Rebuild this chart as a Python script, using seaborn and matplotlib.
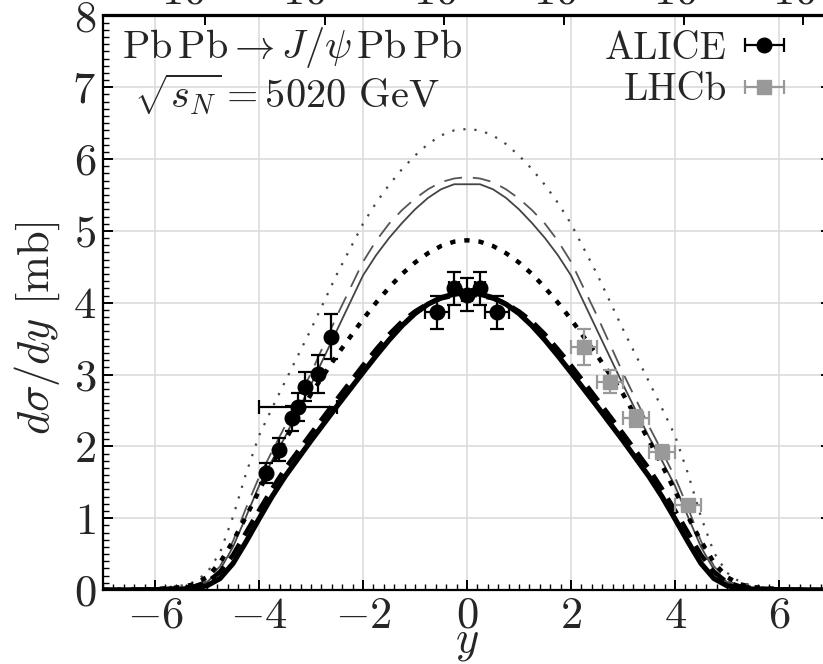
import numpy as np
import pandas as pd
import matplotlib
matplotlib.use("Agg")
import matplotlib.pyplot as plt
import seaborn as sns
from matplotlib.ticker import MultipleLocator, LogLocator, NullFormatter

# ---------------- data ----------------
rap = [-7, -6.5, -6, -5.5, -5.25, -5, -4.75, -4.5, -4.25, -4, -3.75, -3.5, -3, -2.5, -2, -1.75, -1.5, -1.25, -1,
       -0.75, -0.5, -0.25, 0,
       0.25, 0.5, 0.75, 1, 1.25, 1.5, 1.75, 2, 2.5, 3, 3.5, 3.75, 4, 4.25, 4.5, 4.75, 5, 5.25, 5.5, 6, 6.5, 7]

thick_solid = [0.0, 0.001, 0.004, 0.012, 0.025, 0.06, 0.16, 0.37, 0.67, 0.99, 1.30, 1.58, 2.08, 2.56, 3.03, 3.26,
               3.48, 3.68, 3.85, 3.98, 4.07, 4.12, 4.14,
               4.12, 4.07, 3.98, 3.85, 3.68, 3.48, 3.26, 3.03, 2.56, 2.08, 1.58, 1.30, 0.99, 0.67, 0.37, 0.16,
               0.06, 0.025, 0.012, 0.004, 0.001, 0.0]
thick_dashed = [0.001, 0.002, 0.008, 0.025, 0.05, 0.11, 0.25, 0.49, 0.80, 1.11, 1.41, 1.69, 2.18, 2.66, 3.13, 3.35,
                3.56, 3.74, 3.88, 3.99, 4.06, 4.10, 4.12,
                4.10, 4.06, 3.99, 3.88, 3.74, 3.56, 3.35, 3.13, 2.66, 2.18, 1.69, 1.41, 1.11, 0.80, 0.49, 0.25,
                0.11, 0.05, 0.025, 0.008, 0.002, 0.001]
thick_dotted = [0.001, 0.003, 0.012, 0.04, 0.08, 0.18, 0.38, 0.68, 1.02, 1.38, 1.74, 2.08, 2.73, 3.27, 3.77, 4.00,
                4.21, 4.40, 4.56, 4.69, 4.79, 4.85, 4.87,
                4.85, 4.79, 4.69, 4.56, 4.40, 4.21, 4.00, 3.77, 3.27, 2.73, 2.08, 1.74, 1.38, 1.02, 0.68, 0.38,
                0.18, 0.08, 0.04, 0.012, 0.003, 0.001]
thin_solid = [0.001, 0.002, 0.008, 0.025, 0.05, 0.11, 0.28, 0.60, 1.02, 1.45, 1.80, 2.13, 2.86, 3.62, 4.38, 4.66,
              4.90, 5.11, 5.30, 5.46, 5.58, 5.65, 5.65,
              5.65, 5.58, 5.46, 5.30, 5.11, 4.90, 4.66, 4.38, 3.62, 2.86, 2.13, 1.80, 1.45, 1.02, 0.60, 0.28,
              0.11, 0.05, 0.025, 0.008, 0.002, 0.001]
thin_dashed = [0.001, 0.003, 0.01, 0.03, 0.06, 0.13, 0.33, 0.68, 1.14, 1.57, 1.93, 2.28, 3.02, 3.82, 4.57, 4.86,
               5.10, 5.29, 5.45, 5.58, 5.68, 5.73, 5.75,
               5.73, 5.68, 5.58, 5.45, 5.29, 5.10, 4.86, 4.57, 3.82, 3.02, 2.28, 1.93, 1.57, 1.14, 0.68, 0.33,
               0.13, 0.06, 0.03, 0.01, 0.003, 0.001]
thin_dotted = [0.001, 0.005, 0.02, 0.06, 0.11, 0.24, 0.52, 1.02, 1.62, 2.15, 2.53, 2.90, 3.63, 4.40, 5.10, 5.39,
               5.64, 5.86, 6.05, 6.21, 6.33, 6.40, 6.42,
               6.40, 6.33, 6.21, 6.05, 5.86, 5.64, 5.39, 5.10, 4.40, 3.63, 2.90, 2.53, 2.15, 1.62, 1.02, 0.52,
               0.24, 0.11, 0.06, 0.02, 0.005, 0.001]

alice_y = [-3.875, -3.625, -3.375, -3.25, -3.125, -2.875, -2.625, -0.575, -0.25, 0.0, 0.25, 0.575]
alice_xs = [1.625, 1.95, 2.39, 2.55, 2.83, 3.01, 3.53, 3.87, 4.20, 4.11, 4.20, 3.87]
alice_err = [0.14, 0.16, 0.17, 0.20, 0.20, 0.26, 0.32, 0.23, 0.23, 0.23, 0.23, 0.23]
alice_xerr = [0.0, 0.0, 0.0, 0.75, 0.0, 0.0, 0.0, 0.225, 0.1, 0.1, 0.1, 0.225]

lhcb_y = [2.25, 2.75, 3.25, 3.75, 4.25]
lhcb_xs = [3.38, 2.90, 2.39, 1.92, 1.18]
lhcb_err = [0.25, 0.16, 0.12, 0.10, 0.07]
lhcb_xerr = [0.25, 0.25, 0.25, 0.25, 0.25]

top_ticks = [1e-3, 1e-2, 1e-1, 1e0, 1e1, 1e2, 1e3]
top_labels = [r"$10^{-3}$", r"$10^{-2}$", r"$10^{-1}$", r"$10^{0}$", r"$10^{1}$", r"$10^{2}$", r"$10^{3}$"]
M_half = 3.097 / 2.0

# ---------------- style ----------------
sns.set_theme(style="whitegrid")
plt.rcParams.update({
    "font.family": "serif",
    "font.serif": ["cmr10", "DejaVu Serif"],
    "mathtext.fontset": "cm",
    "axes.formatter.use_mathtext": True,
    "axes.unicode_minus": True,
    "axes.edgecolor": "black",
    "axes.linewidth": 1.6,
    "grid.color": "#dcdcdc",
    "grid.linewidth": 1.2,
})

W, H = 823, 664
fig = plt.figure(figsize=(W / 100, H / 100), dpi=100)
left, right, top, bottom = 103, 831, 15.5, 590
ax = fig.add_axes([left / W, (H - bottom) / H, (right - left) / W, (bottom - top) / H])

n = len(rap)
curves = pd.DataFrame({
    "rap": rap * 6,
    "val": thick_solid + thick_dashed + thick_dotted + thin_solid + thin_dashed + thin_dotted,
    "curve": ["ts"] * n + ["td"] * n + ["tdo"] * n + ["ns"] * n + ["nd"] * n + ["ndo"] * n,
})

styles = {
    "ns": dict(color="#444444", lw=1.3, ls="-"),
    "nd": dict(color="#555555", lw=1.3, ls=(0, (10, 6))),
    "ndo": dict(color="#444444", lw=1.6, ls=(0, (1, 4))),
    "tdo": dict(color="black", lw=3.2, ls=(0, (1.2, 2.0))),
    "td": dict(color="black", lw=3.2, ls=(0, (4, 2.2))),
    "ts": dict(color="black", lw=3.8, ls="-"),
}
for key, st in styles.items():
    sub = curves[curves["curve"] == key]
    sns.lineplot(data=sub, x="rap", y="val", ax=ax, sort=False, estimator=None,
                 color=st["color"], linewidth=st["lw"], linestyle=st["ls"], zorder=3)

ax.errorbar(alice_y, alice_xs, yerr=alice_err, xerr=alice_xerr, fmt="o", color="black",
            ms=10.5, elinewidth=1.6, capsize=5, capthick=1.6, zorder=5)
ax.errorbar(lhcb_y, lhcb_xs, yerr=lhcb_err, xerr=lhcb_xerr, fmt="s", color="#999999",
            ms=10, elinewidth=1.6, capsize=5, capthick=1.6, zorder=5)

# legend proxies (horizontal bars only)
h1 = ax.errorbar([np.nan], [np.nan], xerr=[0.1], fmt="o", color="black", ms=10.5,
                 elinewidth=1.6, capsize=5, capthick=1.6, label="ALICE")
h2 = ax.errorbar([np.nan], [np.nan], xerr=[0.1], fmt="s", color="#999999", ms=10,
                 elinewidth=1.6, capsize=5, capthick=1.6, label="LHCb")
leg = ax.legend(handles=[h1, h2], loc="upper right", markerfirst=False, frameon=False,
                fontsize=28, handlelength=1.3, handletextpad=0.3, labelspacing=0.14,
                borderaxespad=0.0, bbox_to_anchor=((805 - left) / (right - left), 1.0))

ax.set_xlim(-7, 7)
ax.set_ylim(0, 8)
ax.xaxis.set_major_locator(MultipleLocator(2))
ax.xaxis.set_minor_locator(MultipleLocator(0.2))
ax.yaxis.set_major_locator(MultipleLocator(1))
ax.yaxis.set_minor_locator(MultipleLocator(0.1))
ax.tick_params(which="both", direction="in", top=False, right=True, labelsize=32,
               width=1.4, color="black")
ax.tick_params(axis="x", which="both", bottom=True)
ax.tick_params(axis="y", which="both", left=True)
ax.tick_params(which="major", length=7)
ax.tick_params(which="minor", length=4, width=1.0)
ax.tick_params(axis="x", pad=5)
ax.tick_params(axis="y", pad=5)
ax.grid(True, which="major")
ax.grid(False, which="minor")
for s in ax.spines.values():
    s.set_color("black")
    s.set_linewidth(1.6)

ax.set_xlabel(r"$y$", fontsize=32, labelpad=-10)
ax.set_ylabel(r"$d\sigma/dy$ [mb]", fontsize=32)
ax.yaxis.set_label_coords(-0.057, 0.455)

# top log axis: (M/2) e^y
top_ax = ax.secondary_xaxis("top", functions=(lambda v: M_half * np.exp(v),
                                              lambda w: np.log(np.clip(w, 1e-300, None) / M_half)))
top_ax.set_xscale("log")
top_ax.set_xticks(top_ticks)
top_ax.set_xticklabels(top_labels)
top_ax.xaxis.set_minor_locator(LogLocator(base=10, subs=np.arange(2, 10)))
top_ax.xaxis.set_minor_formatter(NullFormatter())
top_ax.tick_params(which="both", direction="in", labelsize=32, color="black", pad=1.5)
top_ax.tick_params(which="major", length=7, width=1.4)
top_ax.tick_params(which="minor", length=4, width=1.0)
top_ax.spines["top"].set_linewidth(1.6)

ax.text(0.26, 0.945, r"$\mathrm{Pb\,Pb} \to J/\psi\,\mathrm{Pb\,Pb}$", transform=ax.transAxes,
        fontsize=29, ha="center", va="center")
ax.text(0.253, 0.862, r"$\sqrt{s_N} = 5020$ GeV", transform=ax.transAxes,
        fontsize=29, ha="center", va="center")

fig.savefig("out.png", dpi=100)
